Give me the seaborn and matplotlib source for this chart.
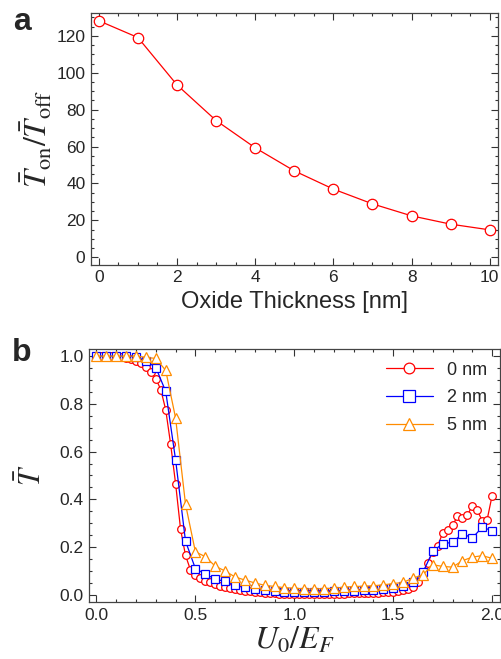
import numpy as np
import pandas as pd
import seaborn as sns
import matplotlib
matplotlib.use('Agg')
import matplotlib.pyplot as plt
from matplotlib.ticker import MultipleLocator

# panel a: on/off ratio vs oxide thickness
thickness = [0, 1, 2, 3, 4, 5, 6, 7, 8, 9, 10]
on_off = [128.2, 119.1, 93.4, 74.1, 59.3, 46.8, 36.9, 28.9, 22.4, 17.9, 14.8]

# panel b: transmission vs U0/EF
u_fine = np.round(np.linspace(0, 2, 81), 3)
u_coarse = np.round(np.linspace(0, 2, 41), 3)

T_0nm = [1.000, 1.000, 1.000, 0.999, 0.998, 0.996, 0.992, 0.987, 0.980, 0.970,
         0.955, 0.935, 0.905, 0.860, 0.775, 0.630, 0.465, 0.275, 0.165, 0.105,
         0.083, 0.070, 0.060, 0.052, 0.045, 0.039, 0.034, 0.029, 0.024, 0.020,
         0.017, 0.014, 0.012, 0.010, 0.008, 0.007, 0.006, 0.005, 0.004, 0.004,
         0.003, 0.003, 0.003, 0.003, 0.003, 0.003, 0.004, 0.004, 0.004, 0.005,
         0.005, 0.006, 0.006, 0.007, 0.007, 0.008, 0.008, 0.009, 0.010, 0.011,
         0.013, 0.016, 0.019, 0.024, 0.032, 0.055, 0.090, 0.135, 0.180, 0.205,
         0.259, 0.273, 0.291, 0.329, 0.322, 0.333, 0.374, 0.354, 0.311, 0.315,
         0.415]
T_2nm = [1.0, 1.0, 1.0, 1.0, 0.997, 0.98, 0.952, 0.852, 0.565, 0.225,
         0.11, 0.087, 0.066, 0.056, 0.042, 0.033, 0.025, 0.02, 0.015, 0.012,
         0.011, 0.010, 0.011, 0.012, 0.014, 0.016, 0.018, 0.019, 0.021, 0.024,
         0.03, 0.037, 0.052, 0.094, 0.182, 0.214, 0.22, 0.256, 0.238, 0.283,
         0.269]
T_5nm = [1.0, 1.0, 1.0, 1.0, 1.0, 0.995, 0.99, 0.94, 0.74, 0.38,
         0.18, 0.16, 0.12, 0.1, 0.075, 0.062, 0.05, 0.04, 0.035, 0.03,
         0.028, 0.025, 0.025, 0.026, 0.028, 0.032, 0.035, 0.036, 0.038, 0.042,
         0.047, 0.052, 0.07, 0.084, 0.126, 0.119, 0.116, 0.143, 0.158, 0.164,
         0.153]

labels = ['0 nm', '2 nm', '5 nm']
colors = ['#ff0000', '#0000ff', '#ff8c00']
markers = ['o', 's', '^']
msizes = [5.5, 6, 6.5]

sns.set_style('ticks')
plt.rcParams['font.family'] = ['Liberation Sans', 'DejaVu Sans']
plt.rcParams['mathtext.fontset'] = 'stix'

fig = plt.figure(figsize=(5.01, 6.59), dpi=100)
ax_a = fig.add_axes([0.1816, 0.598, 0.8124, 0.382])
ax_b = fig.add_axes([0.178, 0.0865, 0.820, 0.384])

# ---- panel a
df_a = pd.DataFrame({'thickness': thickness, 'ratio': on_off})
sns.lineplot(data=df_a, x='thickness', y='ratio', ax=ax_a, color='#ff0000',
             marker='o', markersize=7.5, markerfacecolor='white',
             markeredgecolor='#ff0000', markeredgewidth=0.9, linewidth=0.9)
ax_a.set_xlim(-0.2, 10.21)
ax_a.set_ylim(-4.2, 132.3)
ax_a.xaxis.set_major_locator(MultipleLocator(2))
ax_a.xaxis.set_minor_locator(MultipleLocator(0.5))
ax_a.yaxis.set_major_locator(MultipleLocator(20))
ax_a.yaxis.set_minor_locator(MultipleLocator(5))
ax_a.set_xlabel('Oxide Thickness [nm]', fontsize=17, labelpad=4)
ax_a.set_ylabel(r'$\bar{T}_{\rm on}/\bar{T}_{\rm off}$', fontsize=23, labelpad=1)

# ---- panel b
series = [(u_fine, T_0nm), (u_coarse, T_2nm), (u_coarse, T_5nm)]
for (u, T), lab, c, m, ms in zip(series, labels, colors, markers, msizes):
    df = pd.DataFrame({'u': u, 'T': T})
    sns.lineplot(data=df, x='u', y='T', ax=ax_b, color=c, marker=m,
                 markersize=ms, markerfacecolor='white', markeredgecolor=c,
                 markeredgewidth=0.9, linewidth=0.9, label=lab)
ax_b.set_xlim(-0.037, 2.04)
ax_b.set_ylim(-0.03, 1.03)
ax_b.xaxis.set_major_locator(MultipleLocator(0.5))
ax_b.xaxis.set_minor_locator(MultipleLocator(0.1))
ax_b.yaxis.set_major_locator(MultipleLocator(0.2))
ax_b.yaxis.set_minor_locator(MultipleLocator(0.05))
ax_b.set_xticks([0, 0.5, 1.0, 1.5, 2.0])
ax_b.set_xticklabels(['0.0', '0.5', '1.0', '1.5', '2.0'])
ax_b.set_xlabel(r'$U_0/E_F$', fontsize=23, labelpad=2)
ax_b.set_ylabel(r'$\bar{T}$', fontsize=22, labelpad=8)
ax_b.legend(loc='upper right', frameon=False, fontsize=13, handlelength=2.6,
            handletextpad=0.8, labelspacing=0.6, borderaxespad=0.3,
            markerscale=1.4)

for ax in (ax_a, ax_b):
    ax.tick_params(which='both', direction='in', top=True, right=True,
                   labelsize=12.5, width=0.8, color='#333333')
    ax.tick_params(which='major', length=5, pad=4)
    ax.tick_params(which='minor', length=2.5)
    for s in ax.spines.values():
        s.set_color('#444444')
        s.set_linewidth(0.9)

fig.text(0.044, 0.967, 'a', fontsize=23, fontweight='bold', ha='center', va='center')
fig.text(0.044, 0.464, 'b', fontsize=23, fontweight='bold', ha='center', va='center')

fig.savefig('out.png', dpi=100)
